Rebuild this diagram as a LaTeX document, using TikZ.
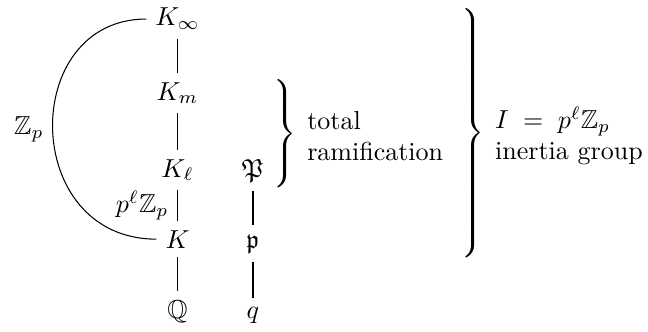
\documentclass[tikz,border=0pt]{standalone}
\usepackage{amsmath,amssymb}
\usepackage{tikz}
\usetikzlibrary{positioning}

\tikzset{
  field/.style={anchor=base},
  delim/.style={inner sep=0pt},
  note/.style={align=left,anchor=west}
}

\begin{document}
\begin{tikzpicture}
  \useasboundingbox (0,0) rectangle (8.76,4.475);
  % tower of fields
  \node[field] (Kinf) at (2.40,4.124) {\(K_\infty\)};
  \node[field] (Km)   at (2.40,3.123) {\(K_m\)};
  \node[field] (Kl)   at (2.40,2.082) {\(K_\ell\)};
  \node[field] (K)    at (2.40,1.122) {\(K\)};
  \node[field] (Q)    at (2.40,0.176) {\(\mathbb{Q}\)};
  % primes
  \node[field] (P)  at (3.42,2.082) {\(\mathfrak{P}\)};
  \node[field] (pp) at (3.42,1.122) {\(\mathfrak{p}\)};
  \node[field] (q)  at (3.42,0.176) {\(q\)};
  \draw (Kinf) -- (Km);
  \draw (Km) -- (Kl);
  \draw (Kl) -- node[left] {\(p^{\ell}\mathbb{Z}_p\)} (K);
  \draw (K) -- (Q);
  \draw (P) -- (pp);
  \draw (pp) -- (q);
  % Galois group of the whole tower
  \draw (Kinf.west) .. controls +(-1.72,0) and +(-1.84,0) .. (K.west);
  \node (Zp) at (0.39,2.73) {\(\mathbb{Z}_p\)};
  % braces
  \node[delim] (sbrace) at (3.83,2.65) {\(\left.\vrule height 19.5pt depth 19.5pt width 0pt\right\}\)};
  \node[note] (ram) at (4.03,2.64) {total\\ramification};
  \node[delim] (bbrace) at (6.37,2.63) {\(\left.\vrule height 48pt depth 48pt width 0pt\right\}\)};
  \node[note] (inert) at (6.57,2.64) {\(I \;=\; p^{\ell}\mathbb{Z}_p\)\\inertia group};
\end{tikzpicture}
\end{document}
